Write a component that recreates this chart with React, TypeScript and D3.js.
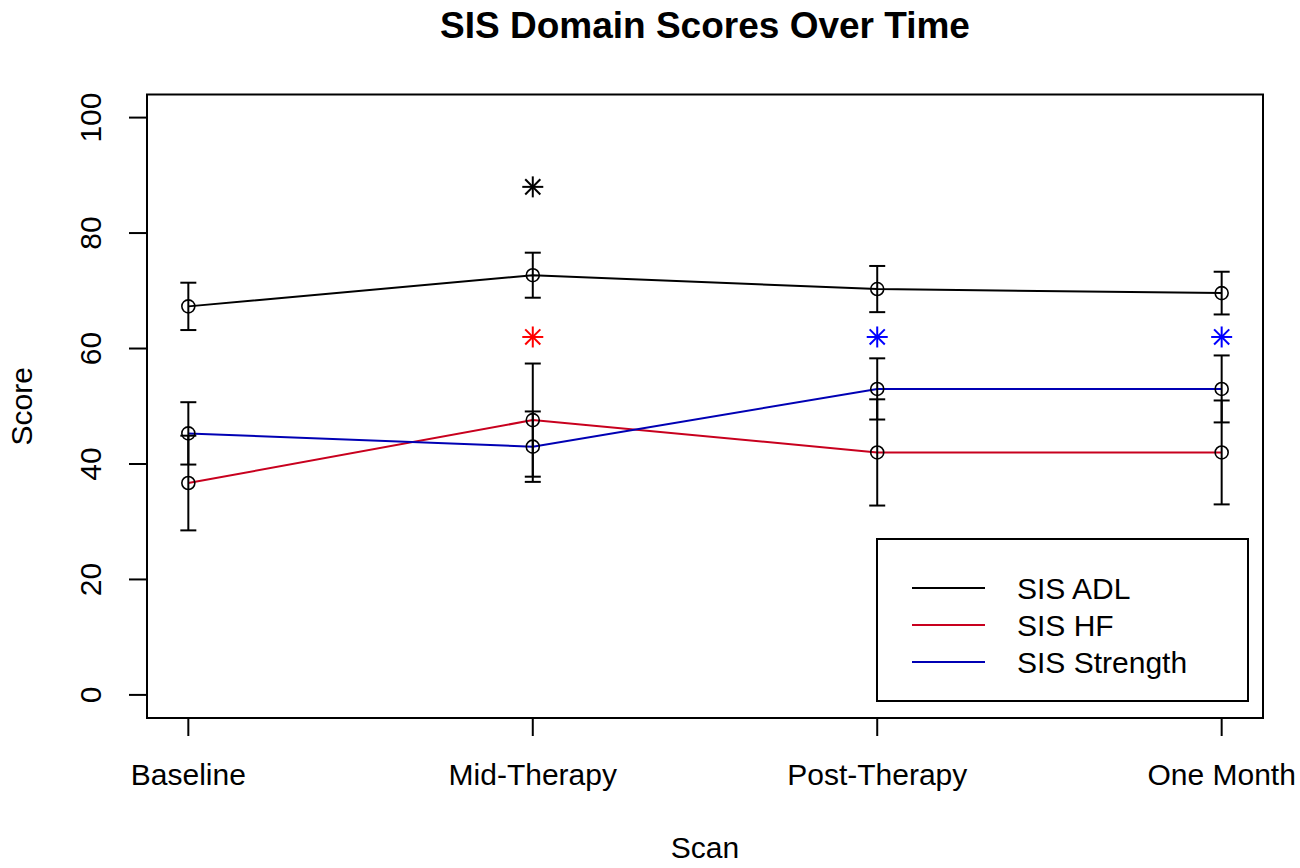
import * as React from "react";
import * as d3 from "d3";

// Values
const scans = ["Baseline", "Mid-Therapy", "Post-Therapy", "One Month"];
const adlMean = [67.3, 72.7, 70.3, 69.6];
const adlErr = [4.1, 3.9, 4.0, 3.7];
const hfMean = [36.7, 47.6, 42.0, 42.0];
const hfErr = [8.2, 9.8, 9.2, 9.0];
const strengthMean = [45.3, 43.0, 53.0, 53.0];
const strengthErr = [5.4, 6.1, 5.3, 5.8];
const yTicks = [0, 20, 40, 60, 80, 100];

// significance asterisks: scan index, height, colour
const stars = [
  { scan: 1, y: 88, color: "#000000" },
  { scan: 1, y: 62, color: "#ff0000" },
  { scan: 2, y: 62, color: "#0000ff" },
  { scan: 3, y: 62, color: "#0000ff" },
];

const series = [
  { name: "SIS ADL", mean: adlMean, err: adlErr, color: "#000000" },
  { name: "SIS HF", mean: hfMean, err: hfErr, color: "#c8001e" },
  { name: "SIS Strength", mean: strengthMean, err: strengthErr, color: "#0000b4" },
];

const width = 1300;
const height = 868;
const margin = { top: 94.5, right: 37, bottom: 150, left: 147 };
const font = "'Liberation Sans', Arial, sans-serif";

function App() {
  const boundedWidth = width - margin.left - margin.right;
  const boundedHeight = height - margin.top - margin.bottom;

  // R-style 4% axis padding
  const xScale = d3
    .scaleLinear()
    .domain([-0.12, 3.12])
    .range([0, boundedWidth]);
  const yScale = d3.scaleLinear().domain([-4, 104]).range([boundedHeight, 0]);

  const line = (vals: number[]) =>
    d3
      .line<number>()
      .x((_, i) => xScale(i))
      .y((d) => yScale(d))(vals) ?? "";

  const cap = 8;
  const r = 6.5;
  const s = 10.5;
  const tick = 18;

  const legendW = 371;
  const legendH = 162;

  return (
    <svg
      width={width}
      height={height}
      style={{ position: "absolute", left: 0, top: 0, background: "white" }}
      fontFamily={font}
    >
      <text
        x={margin.left + boundedWidth / 2}
        y={38}
        textAnchor="middle"
        fontSize={37}
        fontWeight="bold"
      >
        SIS Domain Scores Over Time
      </text>
      <g transform={`translate(${margin.left}, ${margin.top})`}>
        {series.map((sr) => (
          <path
            key={sr.name}
            d={line(sr.mean)}
            fill="none"
            stroke={sr.color}
            strokeWidth={2}
          />
        ))}
        {series.map((sr) =>
          sr.mean.map((m, i) => {
            const x = xScale(i);
            const y0 = yScale(m - sr.err[i]);
            const y1 = yScale(m + sr.err[i]);
            return (
              <g key={`${sr.name}-${i}`} stroke="black" strokeWidth={2}>
                <line x1={x} x2={x} y1={y0} y2={y1} />
                <line x1={x - cap} x2={x + cap} y1={y0} y2={y0} />
                <line x1={x - cap} x2={x + cap} y1={y1} y2={y1} />
                <circle cx={x} cy={yScale(m)} r={r} fill="none" strokeWidth={1.6} />
              </g>
            );
          })
        )}
        {stars.map((st, i) => {
          const x = xScale(st.scan);
          const y = yScale(st.y);
          const d = s * 0.72;
          return (
            <g key={i} stroke={st.color} strokeWidth={2}>
              <line x1={x - s} x2={x + s} y1={y} y2={y} />
              <line x1={x} x2={x} y1={y - s} y2={y + s} />
              <line x1={x - d} x2={x + d} y1={y - d} y2={y + d} />
              <line x1={x - d} x2={x + d} y1={y + d} y2={y - d} />
            </g>
          );
        })}
        <rect
          x={0}
          y={0}
          width={boundedWidth}
          height={boundedHeight}
          fill="none"
          stroke="black"
          strokeWidth={2}
        />
        {/* x axis */}
        <g fontSize={30} textAnchor="middle">
          {scans.map((sc, i) => (
            <g key={sc} transform={`translate(${xScale(i)}, ${boundedHeight})`}>
              <line y2={tick} stroke="black" strokeWidth={2} />
              <text y={67}>{sc}</text>
            </g>
          ))}
        </g>
        {/* y axis */}
        <g fontSize={30} textAnchor="middle">
          {yTicks.map((t) => (
            <g key={t} transform={`translate(0, ${yScale(t)})`}>
              <line x2={-tick} stroke="black" strokeWidth={2} />
              <text transform="translate(-46, 0) rotate(-90)">{t}</text>
            </g>
          ))}
        </g>
        {/* legend */}
        <g
          transform={`translate(${boundedWidth - 15 - legendW}, ${boundedHeight - 17 - legendH})`}
        >
          <rect
            x={0}
            y={0}
            width={legendW}
            height={legendH}
            fill="white"
            stroke="black"
            strokeWidth={2}
          />
          {series.map((sr, i) => (
            <g key={sr.name} transform={`translate(0, ${49 + i * 37})`}>
              <line x1={35} x2={108} stroke={sr.color} strokeWidth={2} />
              <text x={140} dy="0.35em" fontSize={30}>
                {sr.name}
              </text>
            </g>
          ))}
        </g>
      </g>
      <text
        x={margin.left + boundedWidth / 2}
        y={858}
        textAnchor="middle"
        fontSize={30}
      >
        Scan
      </text>
      <text
        transform={`translate(32, ${margin.top + boundedHeight / 2}) rotate(-90)`}
        textAnchor="middle"
        fontSize={30}
      >
        Score
      </text>
    </svg>
  );
}

export default App;
